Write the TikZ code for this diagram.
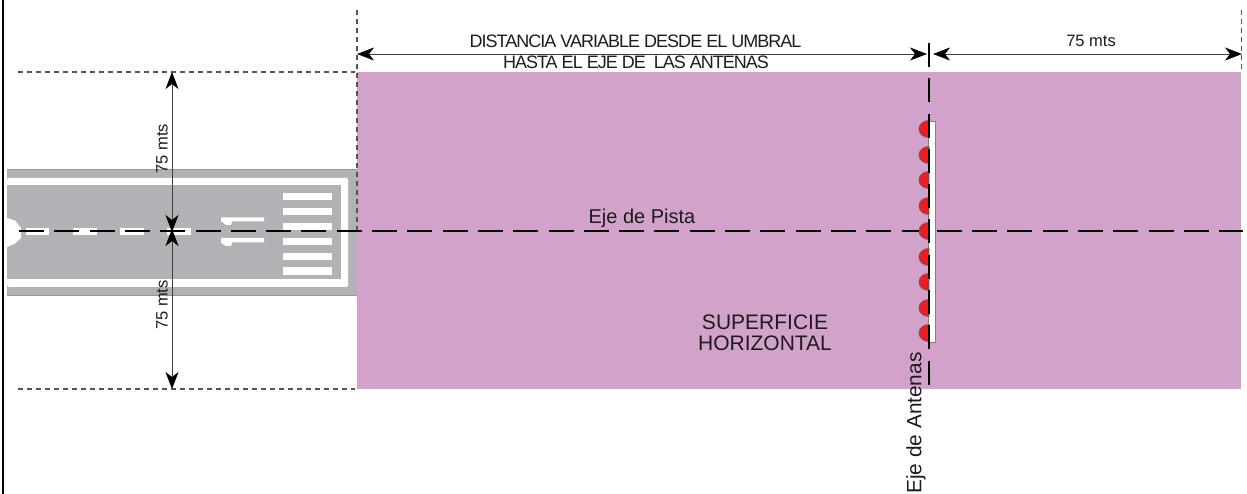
\documentclass[tikz,border=0pt]{standalone}
\usepackage{fontspec}
\setmainfont{Liberation Sans}
\usetikzlibrary{arrows.meta}
\definecolor{pinkzone}{HTML}{D2A2CA}
\definecolor{runway}{HTML}{B1B2B5}
\definecolor{runedge}{HTML}{949599}
\definecolor{inkc}{HTML}{1C1C1C}
\definecolor{antred}{HTML}{ED1C24}
\tikzset{
  dimline/.style={draw=inkc!85!white,line width=0.9pt,{Stealth[length=17pt,width=13pt,inset=5pt,black]}-{Stealth[length=17pt,width=13pt,inset=5pt,black]}},
  guide/.style={draw=inkc!75!white,line width=1.2pt,dash pattern=on 5pt off 4pt},
  axisline/.style={draw=black,line width=1.7pt,dash pattern=on 25pt off 10.3pt},
  lbl/.style={font=\fontsize{16.5}{18}\selectfont,text=inkc,inner sep=0pt},
  capslbl/.style={font=\fontsize{18}{18}\selectfont\addfontfeatures{LetterSpace=-5.5},text=inkc,inner sep=0pt},
  antenna/.style={fill=antred,draw=inkc!70!white,line width=0.8pt},
}
\begin{document}
\begin{tikzpicture}[x=1pt,y=-1pt]
\useasboundingbox (0,0) rectangle (1247,494);
\coordinate (pl) at (357,54);
\coordinate (tick) at (929,54);
\coordinate (pr) at (1242,54);
\coordinate (top) at (172,72);
\coordinate (cen) at (172,230.5);
\coordinate (bot) at (172,389);
\draw[black,line width=2pt] (3.4,0) -- (3.4,494);
\fill[runway] (7,169) rectangle (357,296);
\draw[runedge,line width=1pt] (7,170) -- (357,170) (7,295.5) -- (357,295.5);
\fill[white,rounded corners=1.5pt] (7,178) rectangle (348,287);
\fill[runway] (7,185) rectangle (341,279.5);
\foreach \ya/\yb in {193/200,208/215,223/230,238/245,253/260,267.5/275}
  \fill[white] (283,\ya) rectangle (332,\yb);
\fill[white] (221,217.5) -- (264,217.5) -- (264,221.5) -- (232,221.5) -- (231,225) -- (226,225) -- (221,221) -- cycle;
\fill[white] (221,238) -- (264,238) -- (264,242.5) -- (232,242.5) -- (231,246) -- (226,246) -- (221,243) -- cycle;
\foreach \xa/\xb in {26/49,73/97,120/144,167/191}
  \fill[white] (\xa,228.5) rectangle (\xb,235);
\fill[white] (7,218) -- (15,220.5) -- (21,228) -- (21,238) -- (15,243.5) -- (7,247) -- cycle;
\fill[pinkzone] (357,72) rectangle (1241,389);
\draw[guide] (18,72) -- (355,72);
\draw[guide] (18,389) -- (355,389);
\draw[guide] (357,10) -- (357,231);
\draw[guide] (1241.5,10) -- (1241.5,72);
\draw[axisline] (19,231) -- (1243,231);
\fill[white,draw=gray,line width=0.8pt] (928,121) rectangle (935.5,342);
\foreach \yc in {129,155,180,206,231,257,282,308,333}
  \draw[antenna] (929,\yc+8.5) arc[start angle=90,end angle=270,x radius=10,y radius=8.5] -- cycle;
\draw[draw=black,line width=1.7pt,dash pattern=on 24pt off 11.3pt] (929,43) -- (929,385);
\draw[dimline] (pl) -- ([xshift=-2pt]tick);
\draw[dimline] ([xshift=4pt]tick) -- (pr);
\draw[dimline] (top) -- ([yshift=-1.5pt]cen);
\draw[dimline] ([yshift=1.5pt]cen) -- (bot);
\node[capslbl] (t1) at (635.5,41) {DISTANCIA VARIABLE DESDE EL UMBRAL};
\node[capslbl] (t2) at (636,62.5) {HASTA EL EJE DE\ \ LAS ANTENAS};
\node[lbl] (t3) at (1091,41) {75 mts};
\node[lbl,rotate=90] (t4) at (162,148.5) {75 mts};
\node[lbl,rotate=90] (t5) at (162,305) {75 mts};
\node[lbl,font=\fontsize{20}{22}\selectfont] (t6) at (642,218) {Eje de Pista};
\node[lbl,font=\fontsize{21}{20.5}\selectfont,align=center] (t7) at (765,333) {SUPERFICIE\\HORIZONTAL};
\node[lbl,font=\fontsize{20.8}{22}\selectfont,rotate=90] (t8) at (916,423) {Eje de Antenas};
\end{tikzpicture}
\end{document}
